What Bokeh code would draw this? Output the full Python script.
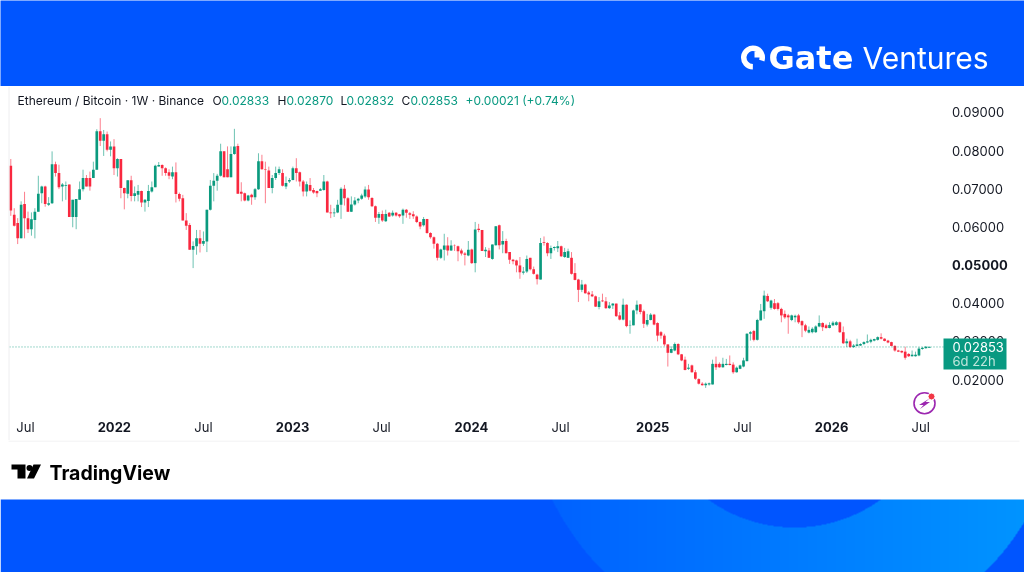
import numpy as np
from bokeh.embed import file_html
from bokeh.resources import INLINE
from bokeh.plotting import figure
from bokeh.layouts import column
from bokeh.models import (Range1d, LinearAxis, FixedTicker, NumeralTickFormatter, Label, Span,
                          BoxAnnotation, ColumnDataSource)
from bokeh.core.properties import value

# ETH/BTC weekly candles, in units of 0.0001
highs = [778,649,623,667,692,640,638,649,734,708,
708,678,798,771,763,715,719,711,671,673,
719,750,736,745,771,856,885,854,850,824,
830,780,778,703,722,734,706,710,695,673,
710,719,763,770,764,756,751,758,769,690,
684,636,610,562,592,592,588,645,723,741,
739,818,798,811,811,857,818,717,690,684,
687,702,793,789,771,758,736,758,758,751,
732,728,758,780,745,723,719,728,702,695,
702,736,721,658,649,671,
704,710,678,680,678,676,687,706,710,678,
656,639,643,645,639,643,639,634,648,647,
639,641,630,614,626,621,586,575,558,543,
582,573,565,554,551,543,534,563,543,613,
608,592,547,545,554,602,606,589,569,534,
516,514,521,495,525,519,496,477,571,575,
560,551,549,563,551,545,543,534,505,464,
461,451,432,432,420,416,425,416,403,400,
399,377,412,397,355,383,407,398,
383,372,374,372,350,327,320,292,287,297,
295,267,260,241,239,225,203,193,192,192,
252,260,245,257,254,263,245,234,239,257,
321,327,330,359,398,433,425,409,411,403,
388,381,372,370,370,372,355,346,339,337,
342,368,350,346,350,353,353,352,339,307,
304,293,307,295,300,318,307,307,313,321,
308,304,299,290,278,276,286,269,276,273,
285,285,287,287]
body_tops = [760,632,610,658,660,623,620,640,687,706,
706,662,764,764,741,711,710,711,671,673,
699,728,728,728,750,851,851,843,843,811,
811,778,778,702,722,722,688,694,694,671,
694,704,760,762,762,754,743,743,743,686,
675,617,605,550,570,570,563,645,708,721,
734,798,798,751,791,811,812,692,688,682,
684,699,772,772,751,748,728,741,751,741,
715,723,754,754,743,719,712,710,697,694,
699,719,719,638,638,658,
700,700,675,659,669,674,682,698,698,676,
654,634,634,634,637,637,637,633,645,645,
636,633,627,613,621,621,584,573,556,541,
551,551,551,552,549,538,530,540,541,593,
595,592,540,538,554,602,604,563,563,534,
514,512,499,483,516,519,489,475,558,560,
558,545,547,549,549,534,536,519,479,462,
449,449,428,423,418,405,407,405,394,399,
399,368,396,396,343,381,396,397,
379,356,370,370,348,324,315,292,280,293,
293,266,252,231,237,219,201,189,189,190,
241,241,241,241,241,241,239,231,237,250,
320,324,327,356,381,420,419,407,400,400,
385,372,368,368,367,368,353,342,330,333,
339,348,348,342,343,349,350,350,324,300,
300,289,292,293,298,300,304,306,311,311,
307,302,298,288,276,275,273,267,265,265,
281,283,286,285.3]
body_bottoms = [643,603,570,570,623,594,594,618,640,688,
660,658,662,741,704,706,708,626,626,626,
671,699,706,706,728,750,826,826,802,802,
754,754,702,688,687,681,681,684,664,664,
668,693,704,758,754,741,734,732,686,674,
617,603,540,540,549,556,556,562,645,708,
721,734,730,730,730,791,687,687,669,669,
678,678,699,751,750,702,702,728,741,708,
706,719,723,741,719,693,693,695,690,688,
695,697,638,636,636,638,
658,675,640,640,659,669,674,680,678,654,
624,624,617,615,627,630,630,628,630,637,
632,628,613,601,604,584,573,556,519,519,
540,538,538,551,536,530,527,525,505,505,
592,537,536,519,516,552,552,554,531,514,
510,499,481,480,483,489,477,463,462,558,
531,531,545,544,523,521,519,477,461,435,
435,426,423,418,391,390,405,387,387,394,
366,357,357,340,342,342,381,377,
346,344,356,344,315,315,292,270,270,276,
266,250,225,228,219,202,189,185,185,187,
187,232,232,232,238,238,219,219,228,234,
248,320,304,304,355,379,405,388,385,385,
368,363,363,356,363,350,342,328,323,324,
324,339,337,335,335,342,343,324,295,295,
285,285,288,289,293,297,299,302,304,307,
301,297,288,276,273,271,257,261,261,261,
263,280,282,283.3]
lows = [629,601,555,570,570,584,577,570,640,662,
653,655,660,732,699,667,671,626,599,594,
671,693,706,695,728,750,812,786,798,785,
736,732,675,646,675,667,667,667,652,640,
652,690,704,758,734,734,725,725,664,667,
617,592,540,492,527,533,550,534,643,667,
695,732,730,730,730,789,687,667,667,667,
658,671,697,750,662,702,688,723,736,706,
699,715,722,719,706,680,680,693,687,678,
695,695,638,623,626,636,
621,656,639,639,656,662,671,676,671,652,
613,608,613,613,626,627,627,624,608,624,
621,621,610,594,601,582,569,543,512,516,
512,525,537,537,510,525,499,523,503,481,
586,537,521,519,514,551,541,531,531,503,
502,481,464,475,479,486,475,449,462,551,
523,516,538,534,521,519,519,475,460,403,
429,425,405,416,390,384,403,385,385,385,
364,355,355,337,320,342,371,371,
335,339,355,342,300,307,287,234,269,274,
264,248,224,225,218,199,187,184,178,184,
187,225,231,231,237,237,215,218,227,232,
248,302,300,302,355,359,403,383,383,381,
350,359,320,353,350,346,311,324,321,321,
322,337,327,333,334,340,341,322,293,285,
283,283,287,288,290,295,295,300,302,305,
300,295,287,273,272,269,252,259,260,260,
261,278,281,283.2]
directions = ("RRRGRRGGGG" "RGGRRGGRGG" "GGRRGGRGRG" "RGRRGRGGRG" "GGGGRRRGRR"
              "RRRGGRGGGG" "GGRRGGRRRG" "RGGRRRGGGR" "GGGRRRGRRR" "GGRRGG"
              "GRRGGGGGRR" "RGRGRGRRGR" "RRRRGRRRRG" "GRGRRRRGRG" "RRGRGGRGRR"
              "RRRGGRRRGR" "RGGGRGGRRR" "GRRRRGRRGG" "RRGRGGGR"
              "RGGRRRRRGG" "RRRGRRRRGG" "GRRGGRRGGG" "GGRGGGRGRR" "RRRGGRRRGG"
              "GGRRGGGRRG" "RGGGGGGGGR" "RRRRRRRRGG" "GGGG")

month_labels = ["Jul", "Jul", "Jul", "Jul", "Jul", "Jul"]
month_ticks = [4.27, 56.0, 107.8, 159.8, 212.7, 264.5]
year_labels = ["2022", "2023", "2024", "2025", "2026"]
year_ticks = [30.1, 81.9, 133.9, 186.6, 238.6]
price_ticks = [0.02, 0.03, 0.04, 0.06, 0.07, 0.08, 0.09]
bold_price_ticks = [0.05]
last_price = 0.02853

UP, DOWN = "#0A9A7E", "#F9283F"
GR = "#089981"
BLUE = "#0055FF"
INK = "#131722"
W = 1024
FONT = "Inter"

n = len(highs)
idx = list(range(n))
scale = 1e-4
src = ColumnDataSource(dict(
    x=idx,
    high=[v * scale for v in highs],
    low=[v * scale for v in lows],
    top=[v * scale for v in body_tops],
    bottom=[v * scale for v in body_bottoms],
    color=[UP if d == "G" else DOWN for d in directions],
))

# ---------- top band
top = figure(width=W, height=86, x_range=Range1d(0, W), y_range=Range1d(86, 0), frame_align=False,
             toolbar_location=None, output_backend="svg", min_border=0, outline_line_color=None,
             background_fill_color=BLUE, border_fill_color=BLUE)
top.axis.visible = False
top.grid.visible = False
top.annular_wedge(x=[752.5], y=[57], inner_radius=6.5, outer_radius=12, start_angle=[5.95], end_angle=[10.98],
                  start_angle_units="rad", end_angle_units="rad", color="white", line_color=None)
top.patch([754, 760, 760, 754], [51, 51, 57, 57], fill_color="white", line_color=None)
top.text(x=[768], y=[57], text=["Gate"], text_color="white", text_font=value("DejaVu Sans"), text_font_style="bold",
         text_font_size="32px", text_baseline="middle")
top.text(x=[862], y=[57], text=["Ventures"], text_color="white", text_font=value(FONT),
         text_font_size="30px", text_baseline="middle")

# ---------- chart: the frame fills the figure, the axes sit at fixed places inside it
PX0, PXW, Y02, PY = 10.3, 3.44, 379.0, 3815.0
def ix(px): return (px - PX0) / PXW
def vy(py): return 0.02 + (Y02 - py) / PY

p = figure(width=W, height=354, x_range=Range1d(ix(0), ix(W)), y_range=Range1d(vy(440), vy(86)), frame_align=False,
           toolbar_location=None, output_backend="svg", y_axis_location=None, x_axis_location=None,
           min_border=0, outline_line_color=None, background_fill_color="white", border_fill_color="white")
p.grid.visible = False

def common(size="13px", style="normal"):
    return dict(axis_line_color=None, major_tick_line_color=None, minor_tick_line_color=None,
                major_label_standoff=7, major_label_text_font=FONT, major_label_text_font_size=size,
                major_label_text_color=INK, major_label_text_font_style=style)

p.add_layout(LinearAxis(fixed_location=ix(938.5), ticker=FixedTicker(ticks=price_ticks),
                        formatter=NumeralTickFormatter(format="0.00000"), **common()), "right")
p.add_layout(LinearAxis(fixed_location=ix(938.5), ticker=FixedTicker(ticks=bold_price_ticks),
                        formatter=NumeralTickFormatter(format="0.00000"), **common(style="bold")), "right")
p.add_layout(LinearAxis(fixed_location=vy(405), ticker=FixedTicker(ticks=month_ticks),
                        major_label_overrides=dict(zip(month_ticks, month_labels)), **common()), "below")
p.add_layout(LinearAxis(fixed_location=vy(408), ticker=FixedTicker(ticks=year_ticks),
                        major_label_overrides=dict(zip(year_ticks, year_labels)), **common(style="bold")), "below")

p.segment("x", "high", "x", "low", source=src, line_color="color", line_alpha=0.6, line_width=1)
p.vbar(x="x", top="top", bottom="bottom", width=0.78, source=src, fill_color="color", line_color=None)

p.segment([ix(9)], [last_price], [ix(943)], [last_price], line_color=UP, line_dash="1 2", line_width=1, line_alpha=0.75)
p.add_layout(Span(location=ix(8.5), dimension="height", line_color="#EEEEF0", line_width=1))

def lab(x, py, text, color=INK, size="12px", style="normal", align="left"):
    p.add_layout(Label(x=x, y=vy(py), x_units="screen", y_units="data", text=text, text_color=color,
                       text_font=FONT, text_font_size=size, text_font_style=style, text_align=align,
                       text_baseline="middle", level="overlay"))

# legend row
lab(17, 100, "Ethereum / Bitcoin · 1W · Binance")
for x, t, c in [(212, "O", INK), (221, "0.02833", GR), (277, "H", INK), (286, "0.02870", GR),
                (340, "L", INK), (346, "0.02832", GR), (401, "C", INK), (410, "0.02853", GR),
                (465, "+0.00021 (+0.74%)", GR)]:
    lab(x, 100, t, c)

# price tag
p.add_layout(BoxAnnotation(left=943, right=1006, top=vy(338), bottom=vy(369), left_units="screen", right_units="screen",
                           fill_color=GR, fill_alpha=1, line_color=None, level="overlay"))
lab(952, 346.7, "0.02853", "white", "13px")
lab(952, 360.7, "6d 22h", "#BFE6DC", "13px")

# lightning badge
p.scatter([ix(924)], [vy(402.7)], size=21, marker="circle", fill_color="white", line_color="#9C27B0", line_width=1.6)
p.patch([ix(v) for v in (929, 918.5, 923, 919.5, 929.5, 925)], [vy(v) for v in (398, 404.5, 404.5, 408.5, 401.5, 401.5)],
        fill_color="#9C27B0", line_color=None)
p.scatter([ix(931)], [vy(396)], size=7, marker="circle", fill_color="#F23645", line_color="white", line_width=1)

# ---------- bottom band (y counts upward from the page's lower edge)
def b(py): return 572 - py
bot = figure(width=W, height=132, x_range=Range1d(0, W), y_range=Range1d(0, 132), frame_align=False,
             toolbar_location=None, output_backend="svg", min_border=0, outline_line_color=None,
             background_fill_color="white", border_fill_color="white")
bot.axis.visible = False
bot.grid.visible = False
bh = 73
yy, xx = np.mgrid[0:bh, 0:W]
yy = 572 - yy - 0.5
xp = xx + 0.5
rr = np.hypot(xp - 794, yy - 380)
mask = (rr < 270) & (rr > 147)
t = np.clip((xp - 552) / (1024 - 552), 0, 1)
img = np.zeros((bh, W, 4), dtype=np.uint8)
img[..., 1] = np.where(mask, 98 + t * 50, 85).astype(np.uint8)
img[..., 2] = 255
img[..., 3] = 255
rgba = img.view(dtype=np.uint32).reshape(bh, W)
bot.image_rgba(image=[rgba], x=0, y=0, dw=W, dh=bh)
bot.segment([8], [b(440.5)], [1019], [b(440.5)], line_color="#EEEEF0", line_width=1)
bot.text(x=[49], y=[b(472)], text=["TradingView"], text_color="#000000", text_font=value(FONT), text_font_style="bold",
         text_font_size="19.5px", text_baseline="middle")
bot.patch([11, 25, 25, 17, 17, 11], [b(v) for v in (464, 464, 478, 478, 469, 469)], fill_color="black", line_color=None)
bot.circle(x=[29], y=[b(467.5)], radius=3, fill_color="black", line_color=None)
bot.patch([33, 40.5, 33.5, 26.5], [b(v) for v in (464, 464, 478, 478)], fill_color="black", line_color=None)

page = column(top, p, bot, spacing=0, styles={"position": "fixed", "left": "0px", "top": "0px"})
open("out.html", "w").write(file_html(page, INLINE))
